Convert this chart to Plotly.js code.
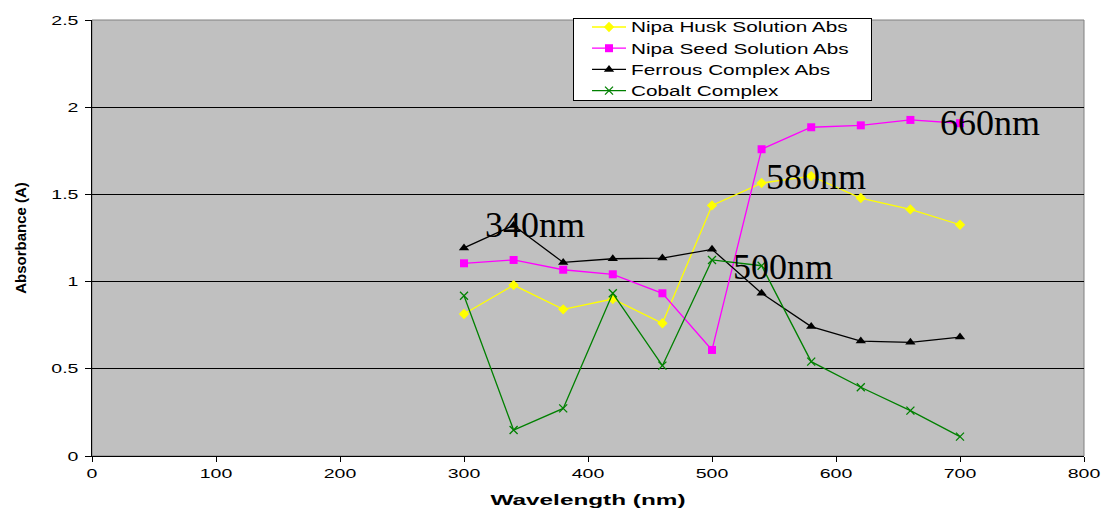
<!DOCTYPE html>
<html>
<head>
<meta charset="utf-8">
<script src="https://cdn.plot.ly/plotly-3.0.1.min.js"></script>
<style>html,body{margin:0;padding:0;background:#fff;}#chart{width:1101px;height:508px;}</style>
</head>
<body>
<div id="chart"></div>
<script>
const wavelengths = [300, 340, 380, 420, 460, 500, 540, 580, 620, 660, 700];
const nipaHusk  = [0.814, 0.98, 0.841, 0.90, 0.761, 1.437, 1.565, 1.605, 1.479, 1.414, 1.326];
const nipaSeed  = [1.105, 1.124, 1.068, 1.042, 0.933, 0.608, 1.759, 1.885, 1.896, 1.927, 1.908];
const ferrous   = [1.193, 1.322, 1.11, 1.131, 1.135, 1.185, 0.933, 0.742, 0.659, 0.652, 0.682];
const cobalt    = [0.919, 0.149, 0.273, 0.933, 0.518, 1.124, 1.091, 0.541, 0.394, 0.26, 0.111];
const seriesNames = ["Nipa Husk Solution Abs", "Nipa Seed Solution Abs", "Ferrous Complex Abs", "Cobalt Complex"];
const labelTexts = ["340nm", "580nm", "500nm", "660nm"];
const labelX = [357, 584, 557, 724];
const labelY = [1.326, 1.60, 1.081, 1.907];

const SANS = "Liberation Sans, Arial, sans-serif";

const traces = [
  {x: wavelengths, y: nipaHusk, name: seriesNames[0], mode: "lines+markers",
   line: {color: "#FFFF00", width: 1.3}, marker: {symbol: "diamond", size: 8, color: "#FFFF00"}},
  {x: wavelengths, y: nipaSeed, name: seriesNames[1], mode: "lines+markers",
   line: {color: "#FF00FF", width: 1.3}, marker: {symbol: "square", size: 8, color: "#FF00FF"}},
  {x: wavelengths, y: ferrous, name: seriesNames[2], mode: "lines+markers",
   line: {color: "#000000", width: 1.3}, marker: {symbol: "triangle-up", size: 9, color: "#000000"}},
  {x: wavelengths, y: cobalt, name: seriesNames[3], mode: "lines+markers",
   line: {color: "#008000", width: 1.3}, marker: {symbol: "x-thin-open", size: 8, color: "#008000", line: {color: "#008000", width: 1.3}}}
];

const annotations = labelTexts.map((t, i) => ({
  x: labelX[i], y: labelY[i], xref: "x", yref: "y", text: t, showarrow: false,
  font: {family: "Liberation Serif, Times New Roman, serif", size: 36, color: "#000"},
  xanchor: "center", yanchor: "middle"
}));

const layout = {
  width: 1101, height: 508,
  margin: {l: 92, r: 17, t: 20, b: 52, autoexpand: false},
  paper_bgcolor: "#ffffff",
  plot_bgcolor: "#C0C0C0",
  font: {family: SANS, color: "#000"},
  showlegend: true,
  legend: {
    x: 0.498, y: 1.022, xanchor: "left", yanchor: "top",
    bgcolor: "#ffffff", bordercolor: "#000000", borderwidth: 1,
    font: {family: SANS, size: 14, color: "#000"},
    tracegroupgap: 0, itemwidth: 34
  },
  xaxis: {
    range: [0, 800], tickmode: "array", tickvals: [0,100,200,300,400,500,600,700,800],
    showgrid: false, zeroline: false, showline: true, linecolor: "#000", linewidth: 1,
    ticks: "outside", ticklen: 5, tickcolor: "#000",
    tickfont: {family: SANS, size: 13},
    title: {text: "<b>Wavelength (nm)</b>", standoff: 16,
            font: {family: SANS, size: 14}}
  },
  yaxis: {
    range: [0, 2.5], tickmode: "array", tickvals: [0, 0.5, 1, 1.5, 2, 2.5], ticktext: ["0","0.5","1","1.5","2","2.5"],
    showgrid: true, gridcolor: "#000", gridwidth: 1, zeroline: false,
    showline: true, linecolor: "#000", linewidth: 1,
    ticks: "outside", ticklen: 6, tickcolor: "#000", ticklabelstandoff: 4,
    tickfont: {family: SANS, size: 13},
    title: {text: "<b>Absorbance (A)</b>", standoff: 30,
            font: {family: SANS, size: 15}}
  },
  shapes: [
    {type: "rect", xref: "paper", yref: "paper", x0: 0, x1: 1, y0: 0, y1: 1,
     line: {color: "#808080", width: 1}, fillcolor: "rgba(0,0,0,0)", layer: "below"}
  ],
  annotations: annotations
};

function stretch(el, factor, fixedLen) {
  const L = el.getComputedTextLength();
  if (!L) return;
  el.setAttribute("textLength", fixedLen ? fixedLen : L * factor);
  el.setAttribute("lengthAdjust", "spacingAndGlyphs");
}

Plotly.newPlot("chart", traces, layout, {displayModeBar: false, staticPlot: true}).then(gd => {
  gd.querySelectorAll(".xtick text, .ytick text").forEach(el => stretch(el, 1.5));
  gd.querySelectorAll(".legendtext").forEach(el => stretch(el, 1.48));
  const xt = gd.querySelector(".xtitle");
  if (xt) stretch(xt, 1, 195);
  const sb = gd.querySelector(".legend .scrollbox");
  if (sb) sb.removeAttribute("clip-path");
  const bg = gd.querySelector(".legend rect.bg");
  if (bg) {
    const x0 = parseFloat(bg.getAttribute("x") || 0);
    const y0 = parseFloat(bg.getAttribute("y") || 0);
    bg.setAttribute("x", x0 - 13);
    bg.setAttribute("width", 298);
    bg.setAttribute("y", y0 + 8);
    bg.setAttribute("height", 82);
  }
});
</script>
</body>
</html>
